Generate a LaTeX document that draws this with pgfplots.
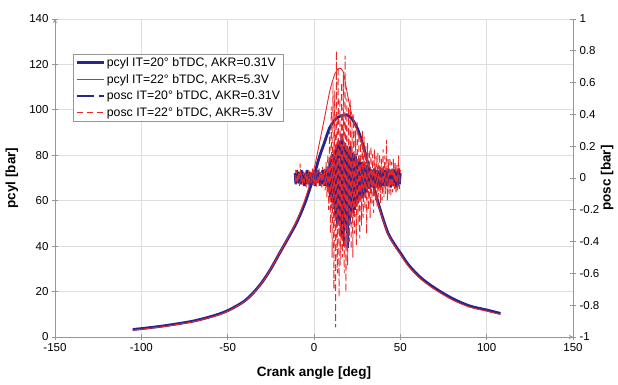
\documentclass[border=0pt]{standalone}
\usepackage{fontspec}
\setmainfont{Liberation Sans}
\usepackage{pgfplots}
\pgfplotsset{compat=1.18}
\definecolor{cblue}{RGB}{38,38,140}
\definecolor{cred}{RGB}{232,40,40}
\definecolor{cgrid}{RGB}{222,222,222}
\definecolor{caxis}{RGB}{150,150,150}
\begin{document}
\begin{tikzpicture}
\useasboundingbox (-55pt,-48pt) rectangle (563pt,337pt);
\pgfplotsset{
  common/.style={
    width=518pt, height=318pt, scale only axis,
    at={(0pt,0pt)}, anchor=south west,
    xmin=-150, xmax=150,
    /pgf/number format/assume math mode=true,
    ticklabel style={font=\fontsize{11.5}{13}\selectfont},
    label style={font=\fontsize{13.5}{15}\selectfont\bfseries},
    axis line style={caxis, line width=0.9pt, -},
    tick style={caxis, line width=0.8pt},
    major tick length=6pt,
    tick align=center,
  }
}
\begin{axis}[common,
  axis lines=left,
  ymin=0, ymax=140,
  xtick distance=50, ytick distance=20,
  grid=major, major grid style={cgrid, line width=0.8pt},
  xlabel={Crank angle [deg]}, ylabel={pcyl [bar]},
  xlabel style={at={(axis description cs:0.5,-0.112)}, anchor=center},
  ylabel style={at={(axis description cs:-0.083,0.5)}, anchor=center, rotate=0},
]
\addplot[cblue, line width=2.8pt, smooth, tension=0.5] coordinates {
(-105,3.3) (-100,3.7) (-90,4.6) (-80,5.7) (-70,7.0) (-62,8.5) (-55,10.1) (-50,11.6)
(-45,13.6) (-40,16.0) (-35,19.6) (-30,24.2) (-25,30.0) (-20,36.8) (-15,43.5) (-10,50.5)
(-5,59.5) (0,71) (3,79) (6,85.5) (9,92) (12,95.5) (15,97.2) (19,97.8) (22,96) (25,92)
(28,85.5) (31,77) (34,68) (37,59.5) (40,52) (43,45.5) (46,41.5) (50,37) (55,31.5)
(62,26) (70,21.5) (80,17) (90,13.7) (100,11.9) (108,10.4)
};
\addplot[cred, line width=0.9pt, smooth, tension=0.5] coordinates {
(-105,3.0) (-100,3.4) (-90,4.3) (-80,5.4) (-70,6.7) (-62,8.2) (-55,9.8) (-50,11.3)
(-45,13.4) (-40,15.8) (-35,19.4) (-30,24.0) (-25,30.0) (-20,36.9) (-15,43.8) (-10,51.2)
(-5,61) (0,74) (3.5,86.7) (6.5,98) (9.3,108.8) (12.2,116) (14.6,118.3) (16.9,116.8)
(18.9,108.8) (20.8,101.4) (23,95) (25,91) (28,84.5) (31,76.5) (34,67.4) (37,58.9)
(40,51.4) (43,45) (46,41) (50,36.4) (55,30.9) (62,25.4) (70,20.9) (80,16.4) (90,13.2)
(100,11.4) (108,9.9)
};
\end{axis}
\begin{axis}[common,
  axis x line=none, axis y line*=right,
  ymin=-1, ymax=1, ytick distance=0.2,
  ylabel={posc [bar]},
  ylabel style={at={(axis description cs:1.066,0.5)}, anchor=center, rotate=0},
  legend cell align=left,
  legend style={at={(axis description cs:0.0347,0.890)}, anchor=north west,
    draw=caxis, line width=0.6pt, font=\fontsize{12.3}{14}\selectfont,
    inner xsep=2pt, inner ysep=1.5pt, row sep=2.6pt,
    nodes={inner sep=1.8pt}},
  legend image code/.code={\draw[#1] (0pt,0pt) -- (27pt,0pt);},
]
\addlegendimage{cblue, line width=2.8pt}
\addlegendentry{pcyl IT=20° bTDC, AKR=0.31V}
\addlegendimage{cred, line width=0.9pt}
\addlegendentry{pcyl IT=22° bTDC, AKR=5.3V}
\addplot[cblue, line width=2.6pt, dash pattern=on 17pt off 5pt] coordinates {
(-11,0.03) (-10.5,-0.04) (-10,0.05) (-9.5,-0.03) (-9,0.04) (-8.5,-0.05) (-8,0.04) (-7.5,-0.04)
(-7,0.05) (-6.5,-0.03) (-6,0.04) (-5.5,-0.05) (-5,0.03) (-4.5,-0.04) (-4,0.05) (-3.5,-0.04)
(-3,0.04) (-2.5,-0.05) (-2,0.03) (-1.5,-0.04) (-1,0.05) (-0.5,-0.03) (0,0.04) (0.5,-0.05)
(1,0.04) (1.5,-0.04) (2,0.05) (2.5,-0.03) (3,0.04) (3.5,-0.05) (4,0.04) (4.5,-0.04)
(5,0.05) (5.5,-0.05) (6,0.04) (6.5,-0.05) (7,0.06) (7.5,-0.05) (8,0.07) (8.5,-0.08)
(9,0.1) (9.5,-0.12) (10,0.12) (10.5,-0.15) (11,0.15) (11.5,-0.2) (12,0.18) (12.5,-0.25)
(13,0.2) (13.5,-0.3) (14,0.22) (14.5,-0.28) (15,0.25) (15.5,-0.35) (16,0.28) (16.5,-0.38)
(17,0.2) (17.5,-0.43) (18,0.22) (18.5,-0.3) (19,0.2) (19.5,-0.44) (20,0.18) (20.5,-0.3)
(21,0.2) (21.5,-0.25) (22,0.16) (22.5,-0.22) (23,0.15) (23.5,-0.2) (24,0.14) (24.5,-0.18)
(25,0.12) (25.5,-0.16) (26,0.12) (26.5,-0.14) (27,0.1) (27.5,-0.13) (28,0.1) (28.5,-0.12)
(29,0.09) (29.5,-0.1) (30,0.08) (30.5,-0.09) (31,0.07) (31.5,-0.08) (32,0.07) (32.5,-0.07)
(33,0.06) (33.5,-0.07) (34,0.06) (34.5,-0.06) (35,0.06) (35.5,-0.06) (36,0.05) (36.5,-0.06)
(37,0.06) (37.5,-0.05) (38,0.05) (38.5,-0.06) (39,0.05) (39.5,-0.05) (40,0.06) (40.5,-0.05)
(41,0.05) (41.5,-0.06) (42,0.05) (42.5,-0.05) (43,0.06) (43.5,-0.05) (44,0.05) (44.5,-0.06)
(45,0.05) (45.5,-0.05) (46,0.06) (46.5,-0.05) (47,0.05) (47.5,-0.06) (48,0.05) (48.5,-0.05)
(49,0.06) (49.5,-0.04) (50,0.03)
};
\addlegendentry{posc IT=20° bTDC, AKR=0.31V}
\addplot[cred, line width=0.9pt, dash pattern=on 6pt off 4pt] coordinates {
(-11,0.02) (-10.5,-0.04) (-10,0.05) (-9.5,-0.03) (-9,0.04) (-8.5,-0.05) (-8,0.09) (-7.5,-0.04)
(-7,0.03) (-6.5,-0.05) (-6,0.04) (-5.5,-0.03) (-5,0.05) (-4.5,-0.06) (-4,0.03) (-3.5,-0.04)
(-3,0.05) (-2.5,-0.05) (-2,0.04) (-1.5,-0.03) (-1,0.06) (-0.5,-0.04) (0,0.05) (0.5,-0.05)
(1,0.04) (1.5,-0.06) (2,0.05) (2.5,-0.04) (3,0.06) (3.5,-0.05) (4,0.04) (4.5,-0.06)
(5,0.07) (5.5,-0.05) (6,0.06) (6.5,-0.08) (7,0.1) (7.5,-0.12) (8,0.15) (8.5,-0.2)
(9,0.3) (9.5,-0.35) (10,0.45) (10.5,-0.5) (11,0.6) (11.5,-0.7) (12,0.55) (12.5,-0.94)
(13,0.8) (13.5,-0.6) (14,0.7) (14.5,-0.75) (15,0.5) (15.5,-0.55) (16,0.6) (16.5,-0.5)
(17,0.65) (17.5,-0.6) (18,0.77) (18.5,-0.72) (19,0.5) (19.5,-0.55) (20,0.45) (20.5,-0.4)
(21,0.5) (21.5,-0.45) (22,0.35) (22.5,-0.5) (23,0.4) (23.5,-0.35) (24,0.3) (24.5,-0.42)
(25,0.35) (25.5,-0.3) (26,0.28) (26.5,-0.38) (27,0.25) (27.5,-0.3) (28,0.3) (28.5,-0.25)
(29,0.26) (29.5,-0.2) (30,0.2) (30.5,-0.35) (31,0.22) (31.5,-0.2) (32,0.18) (32.5,-0.25)
(33,0.2) (33.5,-0.16) (34,0.15) (34.5,-0.22) (35,0.18) (35.5,-0.15) (36,0.14) (36.5,-0.18)
(37,0.16) (37.5,-0.12) (38,0.15) (38.5,-0.16) (39,0.12) (39.5,-0.14) (40,0.18) (40.5,-0.12)
(41,0.14) (41.5,-0.1) (42,0.24) (42.5,-0.14) (43,0.12) (43.5,-0.1) (44,0.13) (44.5,-0.12)
(45,0.1) (45.5,-0.09) (46,0.12) (46.5,-0.08) (47,0.1) (47.5,-0.1) (48,0.09) (48.5,-0.08)
(49,0.14) (49.5,-0.07) (50,0.05)
};
\addlegendentry{posc IT=22° bTDC, AKR=5.3V}
\end{axis}
\end{tikzpicture}
\end{document}
